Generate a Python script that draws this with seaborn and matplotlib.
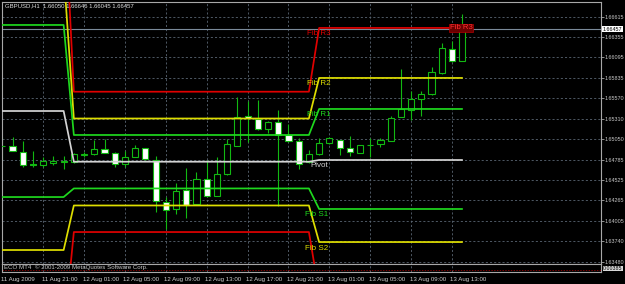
import numpy as np
import pandas as pd
import matplotlib
matplotlib.use("Agg")
import matplotlib.pyplot as plt
import matplotlib.transforms as mtransforms
import seaborn as sns

# ---------------- data ----------------
opens = [1.64964, 1.64964, 1.64887, 1.64730, 1.64717, 1.64746, 1.64759, 1.64755, 1.64851, 1.64854,
         1.64918, 1.64874, 1.64726, 1.64823, 1.64931, 1.64781, 1.64240, 1.64150, 1.64397, 1.64222,
         1.64534, 1.64324, 1.64602, 1.64964, 1.65344, 1.65306, 1.65174, 1.65264, 1.65101, 1.65024,
         1.64759, 1.64854, 1.64995, 1.65037, 1.64931, 1.64874, 1.64973, 1.64982, 1.65028, 1.65328,
         1.65421, 1.65566, 1.65622, 1.65891, 1.66198, 1.66050]
highs = [1.65075, 1.65072, 1.65028, 1.64900, 1.64823, 1.64832, 1.64832, 1.64871, 1.64887, 1.65037,
         1.65046, 1.64887, 1.64900, 1.64973, 1.64935, 1.64832, 1.64311, 1.64483, 1.64675, 1.64624,
         1.64781, 1.64823, 1.65046, 1.65591, 1.65540, 1.65549, 1.65280, 1.65421, 1.65238, 1.65059,
         1.64909, 1.65059, 1.65075, 1.65043, 1.65088, 1.64973, 1.65059, 1.65066, 1.65348, 1.65942,
         1.65664, 1.65664, 1.65975, 1.66275, 1.66304, 1.66646]
lows = [1.64781, 1.64890, 1.64688, 1.64688, 1.64695, 1.64717, 1.64662, 1.64743, 1.64823, 1.64851,
        1.64871, 1.64695, 1.64688, 1.64819, 1.64781, 1.64115, 1.63898, 1.64090, 1.64035, 1.64218,
        1.64307, 1.64320, 1.64589, 1.64960, 1.65015, 1.65165, 1.65123, 1.64192, 1.65011, 1.64662,
        1.64743, 1.64845, 1.64986, 1.64845, 1.64832, 1.64871, 1.64823, 1.64951, 1.65024, 1.65325,
        1.65293, 1.65344, 1.65619, 1.65882, 1.66030, 1.66045]
closes = [1.64960, 1.64892, 1.64713, 1.64723, 1.64768, 1.64772, 1.64762, 1.64858, 1.64858, 1.64918,
          1.64874, 1.64726, 1.64823, 1.64931, 1.64790, 1.64256, 1.64141, 1.64384, 1.64205, 1.64538,
          1.64324, 1.64598, 1.64982, 1.65328, 1.65319, 1.65174, 1.65267, 1.65101, 1.65020, 1.64730,
          1.64858, 1.64995, 1.65059, 1.64931, 1.64883, 1.64969, 1.64970, 1.65037, 1.65319, 1.65434,
          1.65558, 1.65622, 1.65904, 1.66211, 1.66045, 1.66457]

level_names = ["Fib R3", "Fib R2", "Fib R1", "Pivot", "Fib S1", "Fib S2", "Fib S3"]
day1_levels = [1.68288, 1.67187, 1.66509, 1.65408, 1.64307, 1.63629, 1.62528]
day2_levels = [1.65655, 1.65312, 1.65101, 1.64759, 1.64417, 1.64199, 1.63859]
day3_levels = [1.66471, 1.65831, 1.65434, 1.64781, 1.64154, 1.63731, 1.63079]
day_bar_counts = [8, 24, 15]   # bars -1..6, 7..30, 31..45

time_labels = ["11 Aug 2009", "11 Aug 21:00", "12 Aug 01:00", "12 Aug 05:00", "12 Aug 09:00",
               "12 Aug 13:00", "12 Aug 17:00", "12 Aug 21:00", "13 Aug 01:00", "13 Aug 05:00",
               "13 Aug 09:00", "13 Aug 13:00"]
price_ticks = [1.66615, 1.66355, 1.66095, 1.65835, 1.65570, 1.65310, 1.65050, 1.64785,
               1.64525, 1.64265, 1.64005, 1.63740, 1.63480]
bid_price = 1.66457
title_text = "GBPUSD,H1  1.66050 1.66646 1.66045 1.66457"

# ---------------- style ----------------
sns.set_style("dark", {"axes.facecolor": "black", "figure.facecolor": "black",
                       "axes.edgecolor": "#a8a8a8", "grid.color": "#55606c"})
plt.rcParams["font.family"] = ["Liberation Sans", "DejaVu Sans"]

RED = "#e00000"
YEL = "#dede00"
GRN = "#1ed81e"
PIV = "#d4d4d4"
CANDLE = "#12b812"
level_colors = {"Fib R3": RED, "Fib R2": YEL, "Fib R1": GRN, "Pivot": PIV,
                "Fib S1": GRN, "Fib S2": YEL, "Fib S3": RED}

W, H = 625, 284
fig = plt.figure(figsize=(W / 100, H / 100), dpi=100)
ax = fig.add_axes([2 / W, 20 / H, 599 / W, 262 / H])
sub = fig.add_axes([2 / W, 12 / H, 599 / W, 8 / H], sharex=ax)

# ---------------- pivot lines (seaborn) ----------------
bars_all = np.arange(-1, sum(day_bar_counts) - 1)
rows = []
for i, name in enumerate(level_names):
    vals = np.repeat([day1_levels[i], day2_levels[i], day3_levels[i]], day_bar_counts)
    for b, v in zip(bars_all, vals):
        rows.append({"bar": b, "price": v, "level": name})
df = pd.DataFrame(rows)
sns.lineplot(data=df, x="bar", y="price", hue="level", palette=level_colors,
             estimator=None, sort=False, legend=False, lw=1.25, ax=ax, zorder=4)

# ---------------- candles ----------------
o = np.array(opens); c = np.array(closes); hi = np.array(highs); lo = np.array(lows)
x = np.arange(len(o))
ax.vlines(x, lo, hi, color=CANDLE, lw=0.8, zorder=2)
bear = c < o
bottoms = np.minimum(o, c)
heights = np.maximum(np.abs(c - o), 0.00002)
ax.bar(x, heights, bottom=bottoms, width=0.6,
       color=np.where(bear, "white", "black"), edgecolor=CANDLE, lw=0.8, zorder=3)

# bid line
ax.axhline(bid_price, color="#7a8a9a", lw=0.8, zorder=1)

# ---------------- axes ----------------
ax.set_xlim(-0.03, 58.58)
ax.set_ylim(1.63450, 1.66803)
ax.set_xlabel(""); ax.set_ylabel("")
ax.yaxis.tick_right()
ax.set_yticks(price_ticks)
ax.set_yticklabels([f"{p:.5f}" for p in price_ticks])
ax.tick_params(axis="y", colors="#c8c8c8", labelsize=3.9, length=2, width=0.5, pad=0.6,
               right=True, left=False)
ax.set_xticks(np.arange(0, 60, 4))
ax.tick_params(axis="x", labelbottom=False, length=0)
ax.grid(True, color="#5a6673", lw=0.6, linestyle=(0, (2.5, 2.5)))
for s in ax.spines.values():
    s.set_color("#a8a8a8"); s.set_linewidth(0.8)

sub.set_facecolor("black")
sub.set_ylim(0, 1)
sub.set_yticks([])
sub.grid(True, axis="x", color="#5a6673", lw=0.6, linestyle=(0, (2.5, 2.5)))
sub.axhline(0.3, color="#b00000", lw=0.5, linestyle=(0, (2, 2)))
for s in sub.spines.values():
    s.set_color("#a8a8a8"); s.set_linewidth(0.8)
sub.set_xticks(np.arange(0, 4 * len(time_labels), 4))
sub.set_xticklabels(time_labels)
sub.tick_params(axis="x", colors="#d0d0d0", labelsize=4.4, length=0, pad=3.5)
shift = mtransforms.ScaledTranslation(-1.5 / 100, 0, fig.dpi_scale_trans)
for lab in sub.get_xticklabels():
    lab.set_horizontalalignment("left")
    lab.set_transform(lab.get_transform() + shift)
sub.text(1.003, 0.45, "0.00385", transform=sub.transAxes, fontsize=3.8, color="black",
         va="center", ha="left", bbox=dict(boxstyle="square,pad=0.05", fc="#d8d8d8", ec="none"))
sub.text(0.003, 0.62, "ECO MT4  \u00a9 2001-2009 MetaQuotes Software Corp.",
         transform=sub.transAxes, fontsize=4.4, color="#c8c8c8", va="center", ha="left")

# current price box
ax.text(1.003, bid_price, f"{bid_price:.5f}", transform=ax.get_yaxis_transform(),
        fontsize=3.9, color="black", va="center", ha="left",
        bbox=dict(boxstyle="square,pad=0.08", fc="white", ec="none"), zorder=6)

# ---------------- level labels ----------------
off = mtransforms.ScaledTranslation(0, -6 / 100, fig.dpi_scale_trans)
label_x = {"Fib R3": 29.8, "Fib R2": 29.8, "Fib R1": 29.8, "Pivot": 30.1,
           "Fib S1": 29.6, "Fib S2": 29.6}
for i, name in enumerate(level_names[:-1]):
    ax.text(label_x[name], day3_levels[i], name, color=level_colors[name], fontsize=5.8,
            ha="left", va="center", transform=ax.transData + off, zorder=6)
ax.text(43.8, day3_levels[0], "Fib R3", color="#ff3030", fontsize=5.6, ha="left",
        va="center", zorder=6,
        bbox=dict(boxstyle="square,pad=0.1", fc="#6a0000", ec="#b00000", lw=0.5))

fig.text(5 / W, 1 - 6 / H, title_text, fontsize=4.3, color="#e0e0e0", va="center", ha="left")

fig.savefig("out.png", dpi=100, facecolor="black")
